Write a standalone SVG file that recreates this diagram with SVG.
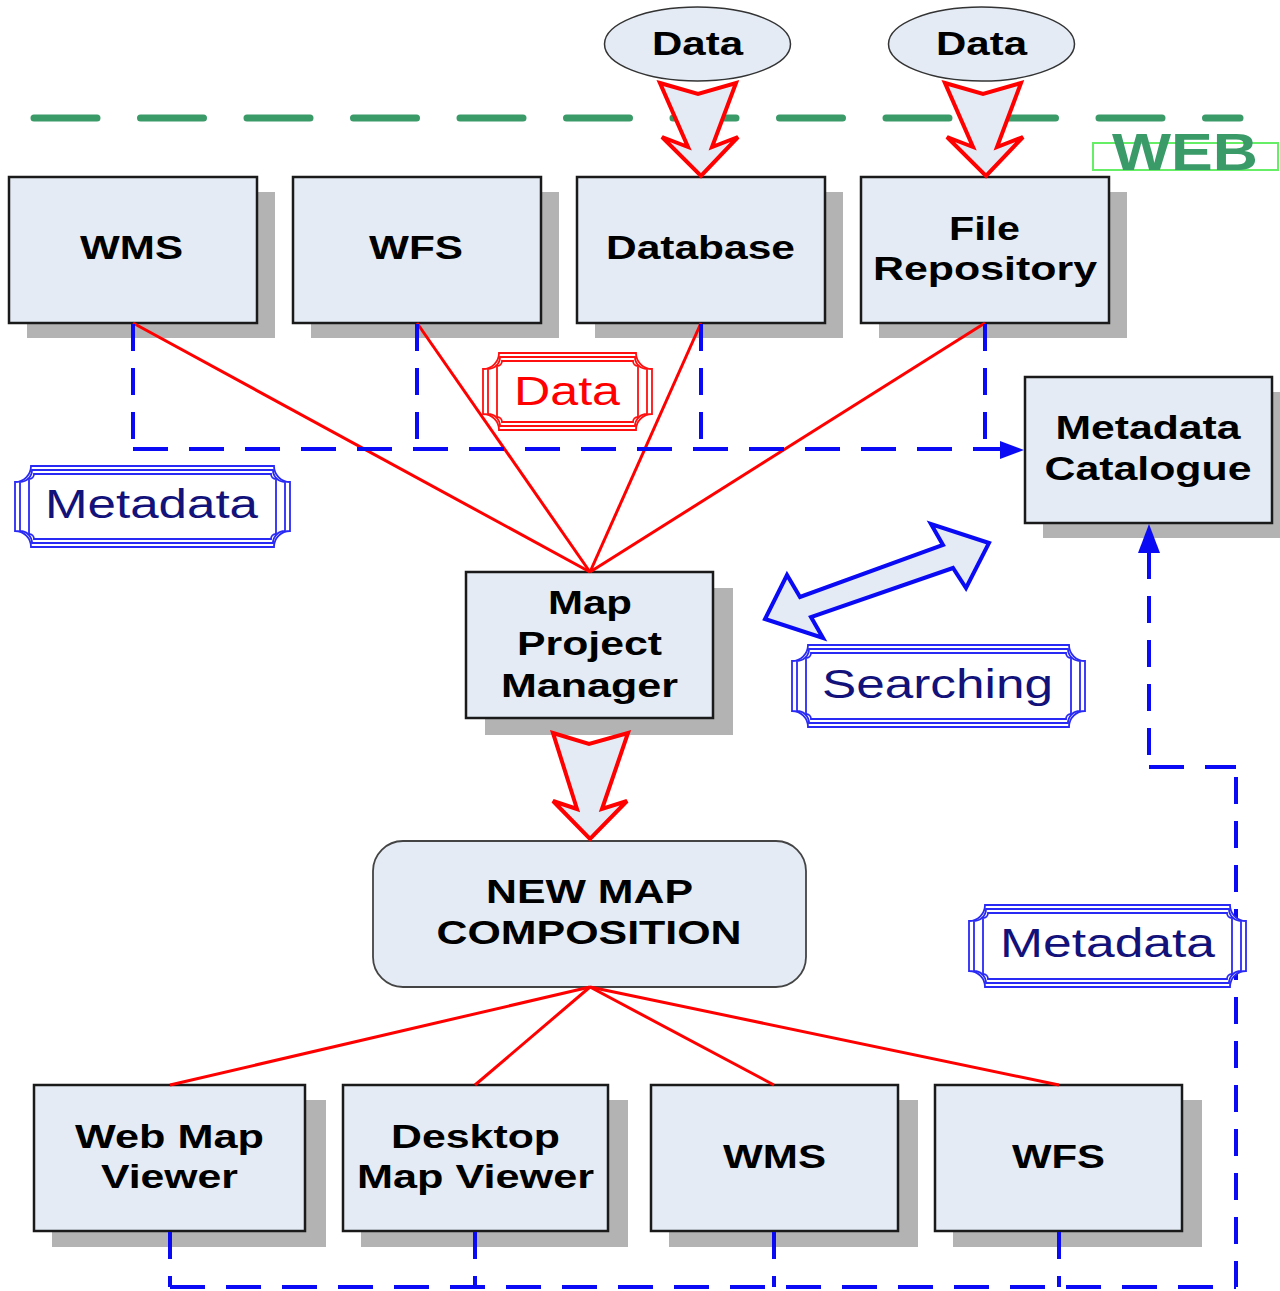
<svg xmlns="http://www.w3.org/2000/svg" width="1280" height="1291" viewBox="0 0 1280 1291">
<style>
.box{fill:#e4ebf5;stroke:#1a1a1a;stroke-width:2.5}
.sh{fill:#b3b3b3}
.t{font-family:"Liberation Sans",Arial,sans-serif;font-weight:bold;font-size:34px;fill:#000;text-anchor:middle}
.lt{font-family:"Liberation Sans",Arial,sans-serif;font-size:40px;text-anchor:middle}
.red{stroke:#ff0000;stroke-width:3;fill:none}
.bdh{stroke:#0a0af5;stroke-width:4;fill:none;stroke-dasharray:35 21}
.bdv{stroke:#0a0af5;stroke-width:4;fill:none;stroke-dasharray:27 17}
.blk{fill:#e4ebf5;stroke:#ff0000;stroke-width:4;stroke-linejoin:miter}
.fb{fill:none;stroke:#2a2af5;stroke-width:1.8}
.fr{fill:none;stroke:#ff1010;stroke-width:1.8}
</style>
<rect width="1280" height="1291" fill="#fff"/>

<!-- web boundary -->
<g id="web">
<line x1="34" y1="118" x2="1240" y2="118" stroke="#3a9a68" stroke-width="7" stroke-linecap="round" stroke-dasharray="63 43.5"/>
<rect x="1093" y="143" width="185" height="27" fill="none" stroke="#66ee66" stroke-width="2"/>
<text x="1185" y="170" font-family="Liberation Sans,Arial,sans-serif" font-weight="bold" font-size="52" fill="#3a9a68" text-anchor="middle" textLength="146" lengthAdjust="spacingAndGlyphs">WEB</text>
</g>

<!-- data sources -->
<g id="data1">
<ellipse cx="697.5" cy="44" rx="93" ry="37" fill="#e4ebf5" stroke="#333" stroke-width="1.5"/>
<text class="t" x="697.5" y="55" textLength="91" lengthAdjust="spacingAndGlyphs">Data</text>
</g>
<g id="data2">
<ellipse cx="981.5" cy="44" rx="93" ry="37" fill="#e4ebf5" stroke="#333" stroke-width="1.5"/>
<text class="t" x="981.5" y="55" textLength="91" lengthAdjust="spacingAndGlyphs">Data</text>
</g>

<!-- top row -->
<g id="wms-top">
<rect class="sh" x="27" y="192" width="248" height="146"/>
<rect class="box" x="9" y="177" width="248" height="146"/>
<text class="t" x="131.5" y="259" textLength="103" lengthAdjust="spacingAndGlyphs">WMS</text>
</g>
<g id="wfs-top">
<rect class="sh" x="311" y="192" width="248" height="146"/>
<rect class="box" x="293" y="177" width="248" height="146"/>
<text class="t" x="416" y="259" textLength="94" lengthAdjust="spacingAndGlyphs">WFS</text>
</g>
<g id="database">
<rect class="sh" x="595" y="192" width="248" height="146"/>
<rect class="box" x="577" y="177" width="248" height="146"/>
<text class="t" x="700.5" y="259" textLength="189" lengthAdjust="spacingAndGlyphs">Database</text>
</g>
<g id="file-repository">
<rect class="sh" x="879" y="192" width="248" height="146"/>
<rect class="box" x="861" y="177" width="248" height="146"/>
<text class="t" x="984.5" y="240" textLength="71" lengthAdjust="spacingAndGlyphs">File</text>
<text class="t" x="985" y="280" textLength="224" lengthAdjust="spacingAndGlyphs">Repository</text>
</g>
<g id="metadata-catalogue">
<rect class="sh" x="1043" y="392" width="248" height="146"/>
<rect class="box" x="1025" y="377" width="247" height="146"/>
<text class="t" x="1148" y="439" textLength="185" lengthAdjust="spacingAndGlyphs">Metadata</text>
<text class="t" x="1148" y="480" textLength="207" lengthAdjust="spacingAndGlyphs">Catalogue</text>
</g>

<!-- middle -->
<g id="map-project-manager">
<rect class="sh" x="485" y="588" width="248" height="147"/>
<rect class="box" x="466" y="572" width="247" height="146"/>
<text class="t" x="590" y="614" textLength="84" lengthAdjust="spacingAndGlyphs">Map</text>
<text class="t" x="589.5" y="655" textLength="145" lengthAdjust="spacingAndGlyphs">Project</text>
<text class="t" x="589.5" y="697" textLength="177" lengthAdjust="spacingAndGlyphs">Manager</text>
</g>
<g id="new-map-composition">
<rect x="373" y="841" width="433" height="146" rx="30" ry="30" fill="#e4ebf5" stroke="#444" stroke-width="1.8"/>
<text class="t" x="589.5" y="903" textLength="207" lengthAdjust="spacingAndGlyphs">NEW MAP</text>
<text class="t" x="589" y="944" textLength="305" lengthAdjust="spacingAndGlyphs">COMPOSITION</text>
</g>

<!-- bottom row -->
<g id="web-map-viewer">
<rect class="sh" x="52" y="1100" width="274" height="147"/>
<rect class="box" x="34" y="1085" width="271" height="146"/>
<text class="t" x="169.5" y="1148" textLength="189" lengthAdjust="spacingAndGlyphs">Web Map</text>
<text class="t" x="169.5" y="1188" textLength="137" lengthAdjust="spacingAndGlyphs">Viewer</text>
</g>
<g id="desktop-map-viewer">
<rect class="sh" x="361" y="1100" width="267" height="147"/>
<rect class="box" x="343" y="1085" width="265" height="146"/>
<text class="t" x="475.5" y="1148" textLength="169" lengthAdjust="spacingAndGlyphs">Desktop</text>
<text class="t" x="475.5" y="1188" textLength="237" lengthAdjust="spacingAndGlyphs">Map Viewer</text>
</g>
<g id="wms-bottom">
<rect class="sh" x="669" y="1100" width="249" height="147"/>
<rect class="box" x="651" y="1085" width="247" height="146"/>
<text class="t" x="774.5" y="1168" textLength="103" lengthAdjust="spacingAndGlyphs">WMS</text>
</g>
<g id="wfs-bottom">
<rect class="sh" x="953" y="1100" width="249" height="147"/>
<rect class="box" x="935" y="1085" width="247" height="146"/>
<text class="t" x="1058.5" y="1168" textLength="93" lengthAdjust="spacingAndGlyphs">WFS</text>
</g>

<!-- connectors -->
<g id="connectors">
<line class="red" x1="133" y1="323" x2="590" y2="572"/>
<line class="red" x1="417" y1="323" x2="590" y2="572"/>
<line class="red" x1="701" y1="323" x2="590" y2="572"/>
<line class="red" x1="985" y1="323" x2="590" y2="572"/>
<line class="red" x1="590" y1="987" x2="170" y2="1085"/>
<line class="red" x1="590" y1="987" x2="475" y2="1085"/>
<line class="red" x1="590" y1="987" x2="774" y2="1085"/>
<line class="red" x1="590" y1="987" x2="1059" y2="1085"/>

<line class="bdv" x1="133" y1="324" x2="133" y2="449"/>
<line class="bdv" x1="417" y1="324" x2="417" y2="449"/>
<line class="bdv" x1="701" y1="324" x2="701" y2="449"/>
<line class="bdv" x1="985" y1="324" x2="985" y2="449"/>
<line class="bdh" x1="133" y1="449" x2="1002" y2="449"/>
<polygon points="1024,450 1000,441 1000,459" fill="#0a0af5"/>

<polygon points="1149,524 1138,553 1160,553" fill="#0a0af5"/>
<line class="bdv" x1="1149" y1="552" x2="1149" y2="767"/>
<line class="bdh" x1="1149" y1="767" x2="1236" y2="767"/>
<line class="bdv" x1="1236" y1="777" x2="1236" y2="1287"/>
<line class="bdh" x1="170" y1="1287" x2="1236" y2="1287"/>
<line class="bdv" x1="170" y1="1232" x2="170" y2="1287"/>
<line class="bdv" x1="475" y1="1232" x2="475" y2="1287"/>
<line class="bdv" x1="774" y1="1232" x2="774" y2="1287"/>
<line class="bdv" x1="1059" y1="1232" x2="1059" y2="1287"/>

<polygon class="blk" points="660,83 698,94 736,83 712,147 738,137 701,176 662,137 688,147"/>
<polygon class="blk" points="945,83 983,94 1021,83 997,147 1023,137 986,176 947,137 973,147"/>
<polygon class="blk" points="553,733 589,744 628,733 602,809 627,801 590,839 553,801 577,809"/>
<polygon points="989,543 931,524 943,545 800,597 787,575 765,619 823,638 811,617 953,568 966,588" fill="#e4ebf5" stroke="#0a0af5" stroke-width="4" stroke-linejoin="miter"/>
</g>

<!-- labels -->
<g id="label-data">
<path class="fr" d="M499,353 H636 A16,16 0 0 0 652,369 V414 A16,16 0 0 0 636,430 H499 A16,16 0 0 0 483,414 V369 A16,16 0 0 0 499,353 Z" style="fill:#fff"/>
<path class="fr" d="M500,357 H635 A12,12 0 0 0 647,369 V414 A12,12 0 0 0 635,426 H500 A12,12 0 0 0 488,414 V369 A12,12 0 0 0 500,357 Z"/>
<path class="fr" d="M502,361 H633 A5,5 0 0 0 638,366 V417 A5,5 0 0 0 633,422 H502 A5,5 0 0 0 497,417 V366 A5,5 0 0 0 502,361 Z"/>
<text class="lt" x="567" y="405" fill="#ff0000" textLength="106" lengthAdjust="spacingAndGlyphs">Data</text>
</g>
<g id="label-metadata-1">
<path class="fb" d="M31,466 H274 A16,16 0 0 0 290,482 V531 A16,16 0 0 0 274,547 H31 A16,16 0 0 0 15,531 V482 A16,16 0 0 0 31,466 Z" style="fill:#fff"/>
<path class="fb" d="M32,470 H273 A12,12 0 0 0 285,482 V531 A12,12 0 0 0 273,543 H32 A12,12 0 0 0 20,531 V482 A12,12 0 0 0 32,470 Z"/>
<path class="fb" d="M34,474 H271 A5,5 0 0 0 276,479 V534 A5,5 0 0 0 271,539 H34 A5,5 0 0 0 29,534 V479 A5,5 0 0 0 34,474 Z"/>
<text class="lt" x="151.5" y="518" fill="#12127a" textLength="213" lengthAdjust="spacingAndGlyphs">Metadata</text>
</g>
<g id="label-searching">
<path class="fb" d="M808,645 H1069 A16,16 0 0 0 1085,661 V711 A16,16 0 0 0 1069,727 H808 A16,16 0 0 0 792,711 V661 A16,16 0 0 0 808,645 Z" style="fill:#fff"/>
<path class="fb" d="M809,649 H1068 A12,12 0 0 0 1080,661 V711 A12,12 0 0 0 1068,723 H809 A12,12 0 0 0 797,711 V661 A12,12 0 0 0 809,649 Z"/>
<path class="fb" d="M811,653 H1066 A5,5 0 0 0 1071,658 V714 A5,5 0 0 0 1066,719 H811 A5,5 0 0 0 806,714 V658 A5,5 0 0 0 811,653 Z"/>
<text class="lt" x="937.5" y="698" fill="#12127a" textLength="231" lengthAdjust="spacingAndGlyphs">Searching</text>
</g>
<g id="label-metadata-2">
<path class="fb" d="M985,905 H1230 A16,16 0 0 0 1246,921 V971 A16,16 0 0 0 1230,987 H985 A16,16 0 0 0 969,971 V921 A16,16 0 0 0 985,905 Z" style="fill:#fff"/>
<path class="fb" d="M986,909 H1229 A12,12 0 0 0 1241,921 V971 A12,12 0 0 0 1229,983 H986 A12,12 0 0 0 974,971 V921 A12,12 0 0 0 986,909 Z"/>
<path class="fb" d="M988,913 H1227 A5,5 0 0 0 1232,918 V974 A5,5 0 0 0 1227,979 H988 A5,5 0 0 0 983,974 V918 A5,5 0 0 0 988,913 Z"/>
<text class="lt" x="1107.5" y="957" fill="#12127a" textLength="215" lengthAdjust="spacingAndGlyphs">Metadata</text>
</g>
</svg>
